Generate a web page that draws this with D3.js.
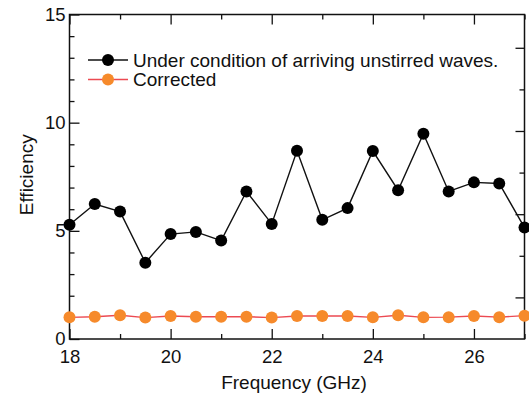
<!DOCTYPE html>
<html>
<head>
<meta charset="utf-8">
<script src="https://cdn.jsdelivr.net/npm/d3@7"></script>
<style>
  body { margin: 0; background: #fff; }
  svg text { font-family: "Liberation Sans", Arial, Helvetica, sans-serif; fill: #111; }
</style>
</head>
<body>
<div id="chart"></div>
<script>
// frequency points (GHz)
const freqs = [18, 18.5, 19, 19.5, 20, 20.5, 21, 21.5, 22, 22.5, 23, 23.5, 24, 24.5, 25, 25.5, 26, 26.5, 27];
// efficiency, unstirred waves arriving
const unstirred = [5.28, 6.24, 5.89, 3.53, 4.85, 4.95, 4.55, 6.82, 5.32, 8.70, 5.51, 6.05, 8.69, 6.88, 9.49, 6.82, 7.24, 7.19, 5.15];
// efficiency, corrected
const corrected = [1.00, 1.03, 1.10, 0.99, 1.06, 1.03, 1.03, 1.03, 0.99, 1.06, 1.06, 1.06, 1.00, 1.10, 1.00, 1.01, 1.06, 1.01, 1.08];

const xMajor = [18, 20, 22, 24, 26];
const xMinor = [19, 21, 23, 25, 27];
const yMajor = [0, 5, 10, 15];
const yMinor = [1, 2, 3, 4, 6, 7, 8, 9, 11, 12, 13, 14];
// right frame carries its own tick spacing
const rightMajor = [1, 3, 5, 7];
const rightMinor = [2, 4, 6];

const seriesNames = ["Under condition of arriving unstirred waves.", "Corrected"];

const W = 529, H = 399;
const pLeft = 69.5, pRight = 524.5, pTop = 14.5, pBottom = 339;

const svg = d3.select("#chart").append("svg")
  .attr("width", W)
  .attr("height", H);

const x = d3.scaleLinear().domain([18, 27]).range([pLeft, pRight]);
const y = d3.scaleLinear().domain([0, 15]).range([pBottom, pTop]);
const yRight = d3.scaleLinear().domain([0, 7.8]).range([pBottom, pTop]);

function styleAxis(g) {
  g.select(".domain").remove();
  g.selectAll("line").attr("stroke", "#111").attr("stroke-width", 1.3);
  g.selectAll("text").attr("font-size", 18.5).attr("fill", "#111");
}

// bottom
svg.append("g").attr("transform", `translate(0,${pBottom})`)
  .call(d3.axisBottom(x).tickValues(xMajor).tickSize(-10).tickPadding(11).tickFormat(d3.format("d")))
  .call(styleAxis);
svg.append("g").attr("transform", `translate(0,${pBottom})`)
  .call(d3.axisBottom(x).tickValues(xMinor).tickSize(-5).tickFormat(""))
  .call(styleAxis);
// top
svg.append("g").attr("transform", `translate(0,${pTop})`)
  .call(d3.axisTop(x).tickValues(xMajor).tickSize(-10).tickFormat(""))
  .call(styleAxis);
svg.append("g").attr("transform", `translate(0,${pTop})`)
  .call(d3.axisTop(x).tickValues(xMinor).tickSize(-5).tickFormat(""))
  .call(styleAxis);
// left
svg.append("g").attr("transform", `translate(${pLeft},0)`)
  .call(d3.axisLeft(y).tickValues(yMajor).tickSize(-10).tickPadding(4).tickFormat(d3.format("d")))
  .call(styleAxis);
svg.append("g").attr("transform", `translate(${pLeft},0)`)
  .call(d3.axisLeft(y).tickValues(yMinor).tickSize(-5).tickFormat(""))
  .call(styleAxis);
// right
svg.append("g").attr("transform", `translate(${pRight},0)`)
  .call(d3.axisRight(yRight).tickValues(rightMajor).tickSize(-9).tickFormat(""))
  .call(styleAxis);
svg.append("g").attr("transform", `translate(${pRight},0)`)
  .call(d3.axisRight(yRight).tickValues(rightMinor).tickSize(-5).tickFormat(""))
  .call(styleAxis);

// frame
svg.append("rect")
  .attr("x", pLeft).attr("y", pTop)
  .attr("width", pRight - pLeft).attr("height", pBottom - pTop)
  .attr("fill", "none").attr("stroke", "#111").attr("stroke-width", 1.5);

// axis titles
svg.append("text")
  .attr("x", (pLeft + pRight) / 2 - 3).attr("y", 389)
  .attr("text-anchor", "middle").attr("font-size", 19)
  .text("Frequency (GHz)");
svg.append("text")
  .attr("transform", `translate(33,${(pTop + pBottom) / 2 - 2}) rotate(-90)`)
  .attr("text-anchor", "middle").attr("font-size", 19)
  .text("Efficiency");

const line = d3.line().x((d, i) => x(freqs[i])).y(d => y(d));

const series = [
  { values: unstirred, lineColor: "#111", dotColor: "#000" },
  { values: corrected, lineColor: "#ec4a52", dotColor: "#f68a2b" }
];

series.forEach(s => {
  svg.append("path")
    .datum(s.values)
    .attr("fill", "none")
    .attr("stroke", s.lineColor)
    .attr("stroke-width", 1.4)
    .attr("d", line);
  svg.append("g").selectAll("circle")
    .data(s.values)
    .enter().append("circle")
    .attr("cx", (d, i) => x(freqs[i]))
    .attr("cy", d => y(d))
    .attr("r", 6)
    .attr("fill", s.dotColor);
});

// legend
const legend = svg.append("g");
series.forEach((s, i) => {
  const ly = 60 + i * 19.5;
  legend.append("line")
    .attr("x1", 88).attr("x2", 128).attr("y1", ly).attr("y2", ly)
    .attr("stroke", s.lineColor).attr("stroke-width", 1.4);
  legend.append("circle")
    .attr("cx", 108).attr("cy", ly).attr("r", 6).attr("fill", s.dotColor);
  legend.append("text")
    .attr("x", 133).attr("y", ly + 6.5)
    .attr("font-size", 19)
    .text(seriesNames[i]);
});
</script>
</body>
</html>
